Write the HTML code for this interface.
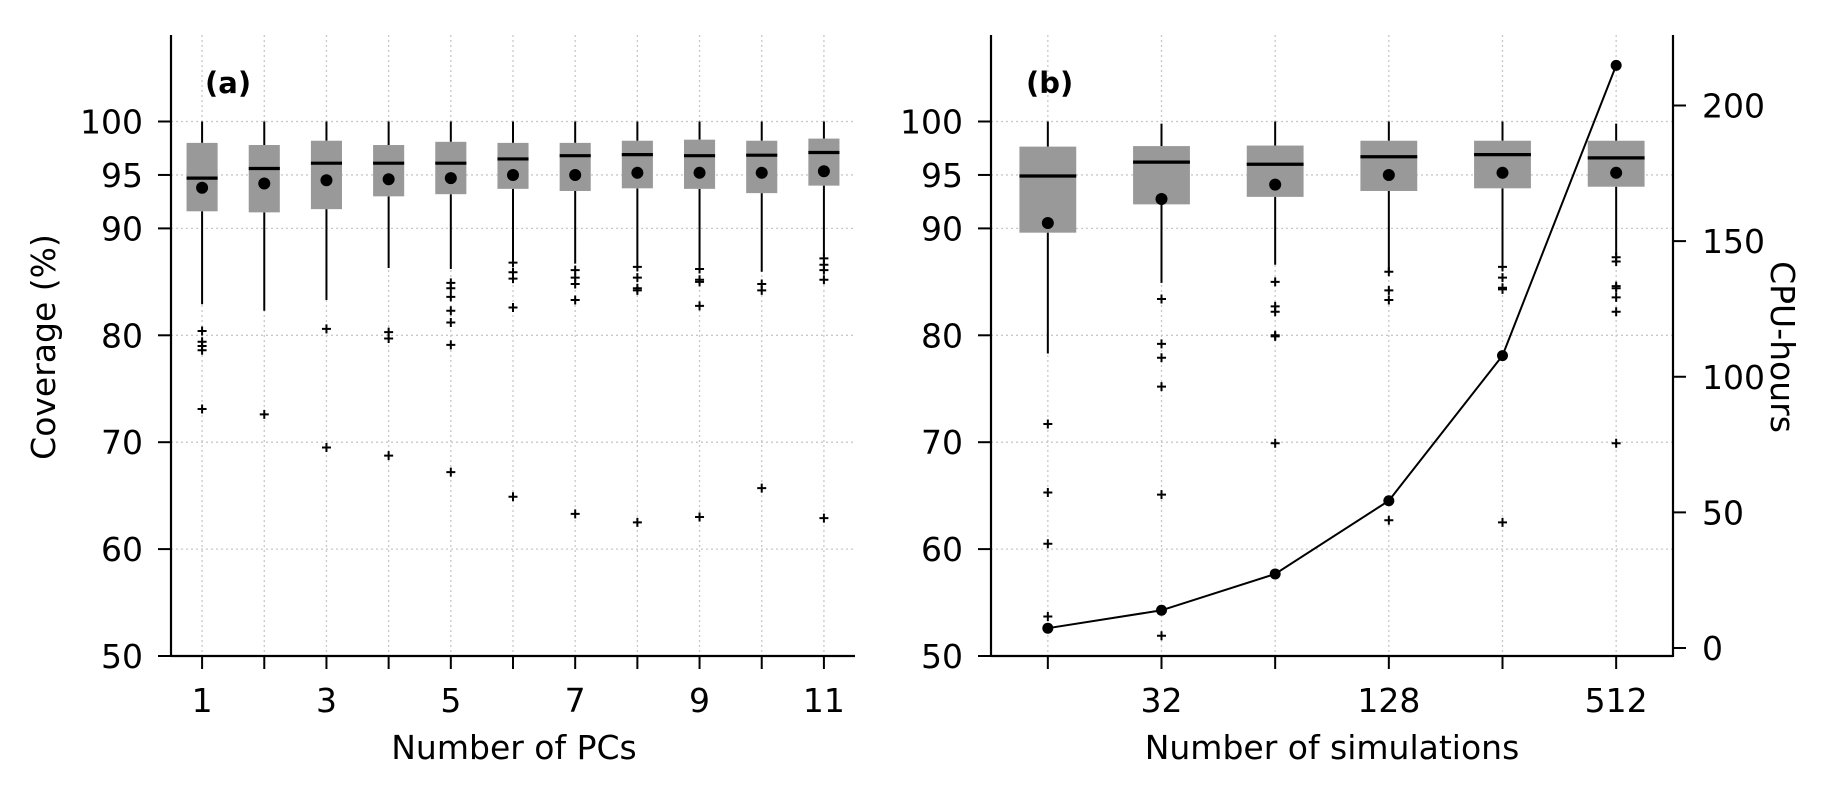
<!DOCTYPE html>
<html><head><meta charset="utf-8"><style>
html,body{margin:0;padding:0;background:#fff;}
svg{display:block;font-family:"DejaVu Sans","Liberation Sans",sans-serif;}
</style></head><body>
<svg id="fig" width="1836" height="786" viewBox="0 0 1836 786"></svg>
<script>
// ---- Panel (a) data ----
const pcsCategories = [1,2,3,4,5,6,7,8,9,10,11];
const pcsQ1 = [91.6,91.5,91.8,93.0,93.2,93.7,93.5,93.75,93.7,93.3,94.0];
const pcsQ3 = [98.0,97.8,98.2,97.8,98.1,98.0,98.0,98.2,98.3,98.2,98.4];
const pcsMedian = [94.7,95.6,96.1,96.1,96.1,96.5,96.8,96.9,96.8,96.85,97.1];
const pcsMean = [93.8,94.2,94.5,94.6,94.7,95.0,95.0,95.2,95.2,95.2,95.35];
const pcsWhiskerLow = [82.9,82.3,83.3,86.3,86.2,86.9,86.7,86.8,86.6,85.95,87.4];
const pcsWhiskerHigh = [100,100,100,100,100,100,100,100,100,100,100];
const pcsFliers = [
 [80.4,79.4,79.0,78.6,73.1],
 [72.6],
 [80.6,69.5],
 [80.3,79.7,68.75],
 [84.9,84.4,83.6,82.3,81.2,79.1,67.2],
 [86.8,85.9,85.3,82.6,64.9],
 [86.1,85.4,84.8,83.3,63.3],
 [86.4,85.4,84.4,84.2,62.5],
 [86.2,85.2,85.0,82.75,63.0],
 [84.8,84.2,65.7],
 [87.2,86.6,86.1,85.2,62.9]
];
// ---- Panel (b) data ----
const simCategories = [16,32,64,128,256,512];
const simTickLabels = ["","32","","128","","512"];
const simQ1 = [89.6,92.25,92.95,93.5,93.75,93.9];
const simQ3 = [97.65,97.7,97.75,98.2,98.2,98.2];
const simMedian = [94.9,96.2,96.0,96.7,96.9,96.6];
const simMean = [90.5,92.75,94.1,95.0,95.2,95.2];
const simWhiskerLow = [78.3,84.9,86.6,86.0,86.5,87.5];
const simWhiskerHigh = [100,99.8,100,100,100,99.8];
const simFliers = [
 [71.7,65.3,60.5,53.7],
 [83.4,79.2,77.9,75.2,65.1,51.9],
 [85.0,82.7,82.2,80.0,79.9,69.9],
 [85.95,84.2,83.3,62.7],
 [86.4,85.4,84.45,84.3,62.5],
 [87.3,86.9,84.6,84.4,83.55,82.2,69.9]
];
const cpuHours = [7.3,13.9,27.3,54.3,107.8,214.8];
const covTicks = [50,60,70,80,90,95,100];
const cpuTicks = [0,50,100,150,200];

const NS="http://www.w3.org/2000/svg";
const svg=document.getElementById('fig');
function mk(tag,attrs,parent,text){const e=document.createElementNS(NS,tag);for(const k in attrs)e.setAttribute(k,attrs[k]);if(text!==undefined)e.textContent=text;(parent||svg).appendChild(e);return e;}

const FS=33;
const Y0=656, Y100=121.5;
const yCov=v=>Y0-(v-50)*(Y0-Y100)/50;
const yTop=35;

function panel(opts){
  const g=mk('g',{});
  
  
  const {xl,xr,xs}=opts;
  const grid=mk('g',{},g);
  
  
  covTicks.forEach(t=>{mk('line',{x1:xl,x2:xr,y1:yCov(t),y2:yCov(t),stroke:'#c8c8c8','stroke-width':1.3,'stroke-dasharray':'2,3'},grid);});
  opts.n.forEach((c,i)=>{mk('line',{x1:xs(i),x2:xs(i),y1:yTop,y2:Y0,stroke:'#c8c8c8','stroke-width':1.3,'stroke-dasharray':'2,3'},grid);});
  const bw=opts.bw;
  opts.n.forEach((c,i)=>{
    const bx=mk('g',{},g);
    
    
    const x=xs(i);
    mk('line',{x1:x,x2:x,y1:yCov(opts.wh[i]),y2:yCov(opts.q3[i]),stroke:'#000','stroke-width':2},bx);
    mk('line',{x1:x,x2:x,y1:yCov(opts.q1[i]),y2:yCov(opts.wl[i]),stroke:'#000','stroke-width':2},bx);
    mk('rect',{x:x-bw/2,y:yCov(opts.q3[i]),width:bw,height:yCov(opts.q1[i])-yCov(opts.q3[i]),fill:'#999999'},bx);
    mk('line',{x1:x-bw/2,x2:x+bw/2,y1:yCov(opts.med[i]),y2:yCov(opts.med[i]),stroke:'#000','stroke-width':3.2},bx);
    mk('circle',{cx:x,cy:yCov(opts.mean[i]),r:6,fill:'#000'},bx);
    opts.fl[i].forEach(f=>{const y=yCov(f);
      mk('path',{d:`M${x-4.5},${y}H${x+4.5}M${x},${y-4.5}V${y+4.5}`,stroke:'#000','stroke-width':2},bx);});
  });
  const ya=mk('g',{},g);
  
  
  mk('line',{x1:xl,x2:xl,y1:yTop,y2:Y0+1,stroke:'#000','stroke-width':2.2},ya);
  covTicks.forEach(t=>{const y=yCov(t);
    mk('line',{x1:xl-13,x2:xl,y1:y,y2:y,stroke:'#000','stroke-width':2},ya);
    mk('text',{x:xl-28,y:y+12,'text-anchor':'end','font-size':FS},ya,String(t));});
  const xa=mk('g',{},g);
  
  
  mk('line',{x1:xl,x2:xr,y1:Y0,y2:Y0,stroke:'#000','stroke-width':2.2},xa);
  opts.n.forEach((c,i)=>{const x=xs(i);
    mk('line',{x1:x,x2:x,y1:Y0,y2:Y0+13,stroke:'#000','stroke-width':2},xa);
    mk('text',{x:x,y:712,'text-anchor':'middle','font-size':FS},xa,opts.labels[i]);});
  const xt=mk('text',{x:opts.titleX,y:759,'text-anchor':'middle','font-size':FS},g,opts.xtitle);
  
  
  const pl=mk('text',{x:opts.labX,y:93,'font-size':29,'font-weight':'bold'},g,opts.tag);
  
  
  return g;
}

const aL=171,aR=855,aStep=(aR-aL)/11;
const xsA=i=>aL+(i+0.5)*aStep;
panel({name:'panel-a',xl:aL,xr:aR,xs:xsA,n:pcsCategories,bw:aStep*0.5,
  q1:pcsQ1,q3:pcsQ3,med:pcsMedian,mean:pcsMean,wl:pcsWhiskerLow,wh:pcsWhiskerHigh,fl:pcsFliers,
  labels:pcsCategories.map((c,i)=>i%2===0?String(c):''),xtitle:'Number of PCs',titleX:514,labX:205,tag:'(a)'});
const yt=mk('text',{x:0,y:0,'text-anchor':'middle','font-size':FS,transform:'translate(55,347) rotate(-90)'},svg,'Coverage (%)');



const bL=991,bR=1673,bStep=(bR-bL)/6;
const xsB=i=>bL+(i+0.5)*bStep;
panel({name:'panel-b',xl:bL,xr:bR,xs:xsB,n:simCategories,bw:bStep*0.5,
  q1:simQ1,q3:simQ3,med:simMedian,mean:simMean,wl:simWhiskerLow,wh:simWhiskerHigh,fl:simFliers,
  labels:simTickLabels,xtitle:'Number of simulations',titleX:1332,labX:1026,tag:'(b)'});

const C0=648,C200=105.5;
const yCpu=v=>C0-v*(C0-C200)/200;
const ra=mk('g',{});


mk('line',{x1:bR,x2:bR,y1:yTop,y2:Y0+1,stroke:'#000','stroke-width':2.2},ra);
cpuTicks.forEach(t=>{const y=yCpu(t);
  mk('line',{x1:bR,x2:bR+13,y1:y,y2:y,stroke:'#000','stroke-width':2},ra);
  mk('text',{x:bR+29,y:y+12,'font-size':FS},ra,String(t));});
const rt=mk('text',{x:0,y:0,'text-anchor':'middle','font-size':FS,transform:'translate(1771,347) rotate(90)'},svg,'CPU-hours');


const pts=cpuHours.map((v,i)=>xsB(i)+','+yCpu(v)).join(' ');
const cl=mk('polyline',{points:pts,fill:'none',stroke:'#000','stroke-width':2});


cpuHours.forEach((v,i)=>{
  const p=mk('circle',{cx:xsB(i),cy:yCpu(v),r:5.5,fill:'#000'});
  
  
});
</script>
</body></html>
